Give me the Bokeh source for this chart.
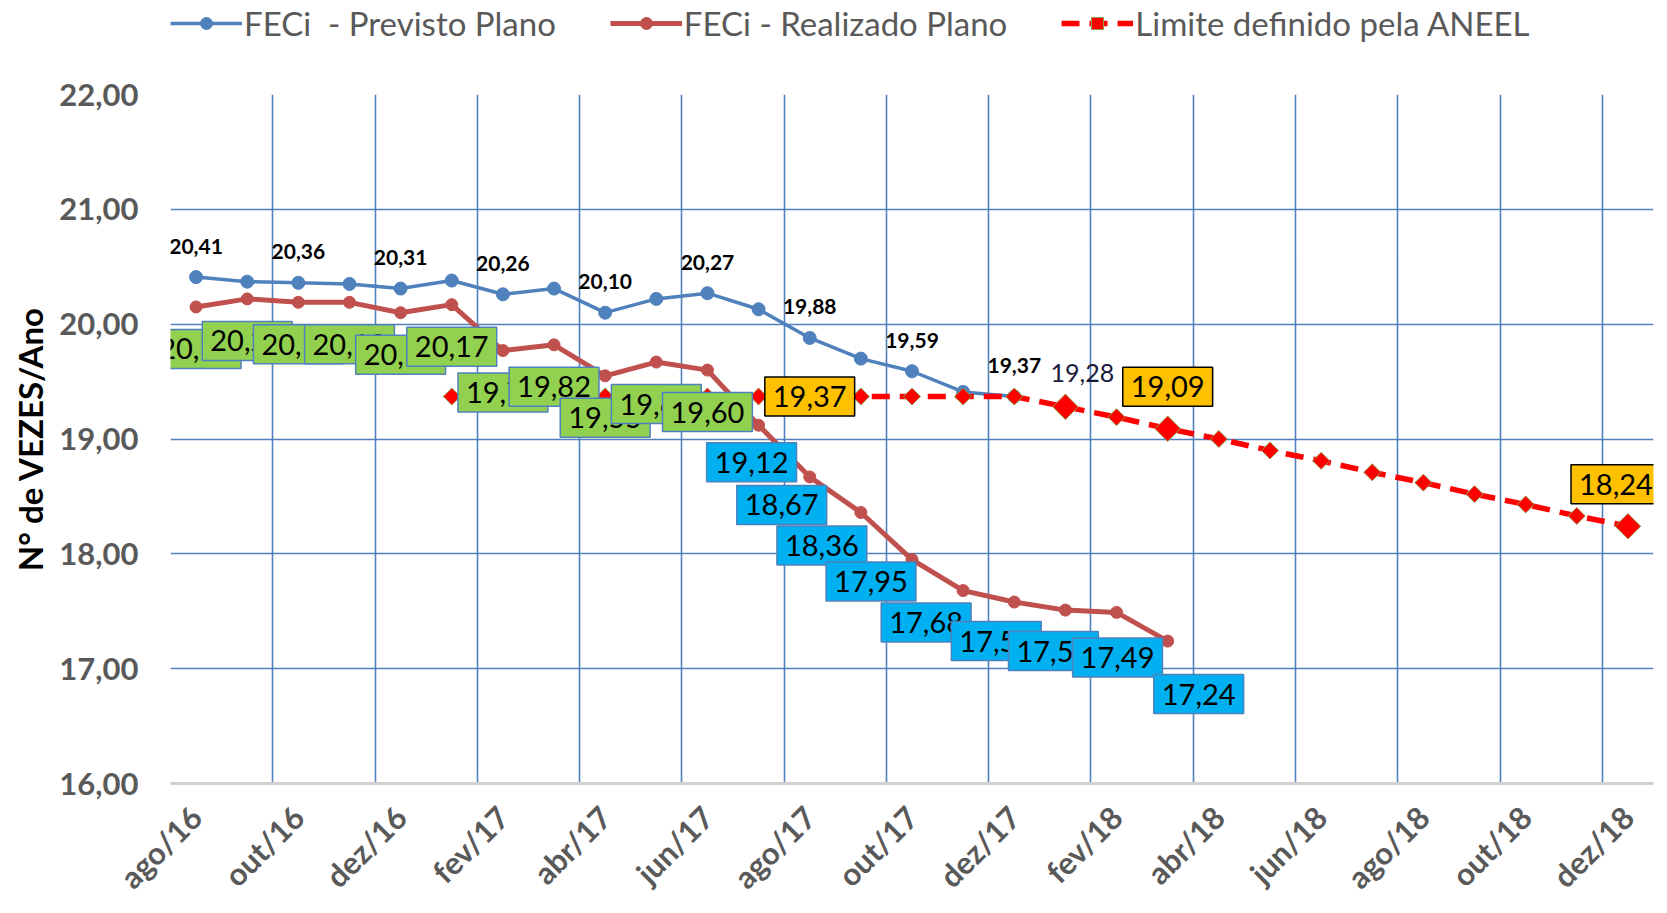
import math
from bokeh.plotting import figure
from bokeh.layouts import column
from bokeh.models import FixedTicker, Legend, LegendItem, Range1d
from bokeh.core.properties import value
from bokeh.embed import file_html
from bokeh.resources import INLINE

# ---------------- data ----------------
months = ["ago/16", "set/16", "out/16", "nov/16", "dez/16", "jan/17", "fev/17", "mar/17",
          "abr/17", "mai/17", "jun/17", "jul/17", "ago/17", "set/17", "out/17", "nov/17",
          "dez/17", "jan/18", "fev/18", "mar/18", "abr/18", "mai/18", "jun/18", "jul/18",
          "ago/18", "set/18", "out/18", "nov/18", "dez/18"]

previsto = [20.41, 20.37, 20.36, 20.35, 20.31, 20.38, 20.26, 20.31, 20.10, 20.22,
            20.27, 20.13, 19.88, 19.70, 19.59, 19.41, 19.37]

realizado = [20.15, 20.22, 20.19, 20.19, 20.10, 20.17, 19.77, 19.82, 19.55, 19.67,
             19.60, 19.12, 18.67, 18.36, 17.95, 17.68, 17.58, 17.51, 17.49, 17.24]

limite_first_month = "jan/17"
limite = [19.37, 19.37, 19.37, 19.37, 19.37, 19.37, 19.37, 19.37, 19.37, 19.37,
          19.37, 19.37, 19.28, 19.19, 19.09, 19.00, 18.90, 18.81, 18.71, 18.62,
          18.52, 18.43, 18.33, 18.24]

y_ticks = [16, 17, 18, 19, 20, 21, 22]

series_names = ["FECi  - Previsto Plano", "FECi - Realizado Plano", "Limite definido pela ANEEL"]

# ---------------- styles / layout ----------------
FONT = "Lato"
GRID = "#4F81BD"
BLUE = "#4F81BD"
RED = "#C0504D"
LIM = "#FF0000"
GREEN_BOX = "#92D050"
CYAN_BOX = "#00B0F0"
ORANGE_BOX = "#FFC000"
DIAMOND_EDGE = "#949B4A"

W = 1661
LEFT, RIGHT = 170, 8
TOP_H = 74
MAIN_TOP = 20

green_box_count = 11                       # first 11 realizado labels are green
cyan_dx = [-7, -28, -39, -41, -37, -18, -12, 1, 31]
cyan_dy = [37, 28, 33, 22, 32, 39, 41, 45, 53]
big_limit_months = ["jan/18", "mar/18", "dez/18"]
boxed_limit_offsets = {"ago/17": (0, 0), "mar/18": (0, -42), "dez/18": (-12, -42)}
plain_limit_months = ["jan/18"]
BOX_PAD = (8, 9)


def fmt(v):
    return f"{v:.2f}".replace(".", ",")


n = len(months)
xc = [i + 0.5 for i in range(n)]
lim0 = months.index(limite_first_month)
x_prev = xc[:len(previsto)]
x_real = xc[:len(realizado)]
x_lim = xc[lim0:lim0 + len(limite)]
lim_months = months[lim0:lim0 + len(limite)]

# ---------------- main chart ----------------
p = figure(frame_width=W - LEFT - RIGHT, frame_height=689, x_range=Range1d(0, n),
           y_range=Range1d(y_ticks[0], y_ticks[-1]),
           output_backend="svg", toolbar_location=None,
           min_border_left=LEFT, min_border_right=RIGHT, min_border_top=MAIN_TOP,
           min_border_bottom=0)
p.outline_line_color = None

p.xgrid.ticker = FixedTicker(ticks=list(range(0, n, 2)) + [n])
p.ygrid.ticker = FixedTicker(ticks=y_ticks[1:])
for g in (p.xgrid, p.ygrid):
    g.grid_line_color = GRID
    g.grid_line_width = 1.6

p.xaxis.ticker = FixedTicker(ticks=[xc[i] for i in range(0, n, 2)])
p.xaxis.major_label_overrides = {xc[i]: months[i] for i in range(0, n, 2)}
p.xaxis.major_label_orientation = math.pi / 4
p.xaxis.major_label_standoff = 22
p.xaxis.axis_line_color = "#D0D0D0"
p.xaxis.axis_line_width = 3
p.xaxis.major_tick_line_color = None
p.xaxis.minor_tick_line_color = None
p.xaxis.major_label_text_font = FONT
p.xaxis.major_label_text_font_style = "bold"
p.xaxis.major_label_text_font_size = "31px"
p.xaxis.major_label_text_color = "#595959"

p.yaxis.ticker = FixedTicker(ticks=y_ticks)
p.yaxis.major_label_overrides = {t: f"{t},00" for t in y_ticks}
p.yaxis.axis_line_color = None
p.yaxis.major_tick_line_color = None
p.yaxis.minor_tick_line_color = None
p.yaxis.major_label_standoff = 26
p.yaxis.major_label_text_font = FONT
p.yaxis.major_label_text_font_style = "bold"
p.yaxis.major_label_text_font_size = "31px"
p.yaxis.major_label_text_color = "#595959"
p.yaxis.axis_label = "N° de VEZES/Ano"
p.yaxis.axis_label_text_font = FONT
p.yaxis.axis_label_text_font_style = "bold"
p.yaxis.axis_label_text_font_size = "33px"
p.yaxis.axis_label_text_color = "black"
p.yaxis.axis_label_standoff = 6

p.line(x_prev, previsto, line_color=BLUE, line_width=3.5)
p.scatter(x_prev, previsto, marker="circle", size=13, fill_color=BLUE, line_color=BLUE)
p.line(x_real, realizado, line_color=RED, line_width=5)
p.scatter(x_real, realizado, marker="circle", size=12, fill_color=RED, line_color=RED)
p.line(x_lim, limite, line_color=LIM, line_width=5.5, line_dash="18 10")
lim_sizes = [18 if m in big_limit_months else 12 for m in lim_months]
p.scatter(x_lim, limite, marker="square", angle=math.pi / 4, size=lim_sizes,
          fill_color=LIM, line_color=DIAMOND_EDGE, line_width=1)

# previsto labels (every other month)
idx = list(range(0, len(previsto), 2))
p.text([x_prev[i] for i in idx], [previsto[i] for i in idx], text=[fmt(previsto[i]) for i in idx],
       y_offset=-31, text_align="center", text_baseline="middle",
       text_font=value(FONT), text_font_style="bold", text_font_size="21px", text_color="black")

# realizado labels
g_idx = list(range(green_box_count))
p.text([x_real[i] for i in g_idx], [realizado[i] for i in g_idx], text=[fmt(realizado[i]) for i in g_idx],
       y_offset=42, text_align="center", text_baseline="middle",
       text_font=value(FONT), text_font_size="29px", text_color="black",
       background_fill_color=GREEN_BOX, border_line_color=BLUE, border_line_width=1.5,
       padding=BOX_PAD)
c_idx = list(range(green_box_count, len(realizado)))
p.text([x_real[i] for i in c_idx], [realizado[i] for i in c_idx], text=[fmt(realizado[i]) for i in c_idx],
       x_offset=cyan_dx, y_offset=cyan_dy, text_align="center", text_baseline="middle",
       text_font=value(FONT), text_font_size="29px", text_color="black",
       background_fill_color=CYAN_BOX, border_line_color=BLUE, border_line_width=1.5,
       padding=BOX_PAD)

# limite labels
o_idx = [lim_months.index(m) for m in boxed_limit_offsets]
p.text([x_lim[i] for i in o_idx], [limite[i] for i in o_idx], text=[fmt(limite[i]) for i in o_idx],
       x_offset=[boxed_limit_offsets[lim_months[i]][0] for i in o_idx],
       y_offset=[boxed_limit_offsets[lim_months[i]][1] for i in o_idx],
       text_align="center", text_baseline="middle",
       text_font=value(FONT), text_font_size="29px", text_color="black",
       background_fill_color=ORANGE_BOX, border_line_color="black", border_line_width=1.5,
       padding=BOX_PAD)
q_idx = [lim_months.index(m) for m in plain_limit_months]
p.text([x_lim[i] for i in q_idx], [limite[i] for i in q_idx], text=[fmt(limite[i]) for i in q_idx],
       x_offset=17, y_offset=-34, text_align="center", text_baseline="middle",
       text_font=value(FONT), text_font_size="25px", text_color="#1A1A3A")

# ---------------- legend strip ----------------
pt = figure(width=W, height=TOP_H, x_range=Range1d(0, 1), y_range=Range1d(0, 1),
            output_backend="svg", toolbar_location=None, x_axis_type=None, y_axis_type=None,
            min_border_left=LEFT, min_border_right=RIGHT, min_border_top=0, min_border_bottom=0)
pt.outline_line_color = None
pt.grid.visible = False
hx, hy = [-10], [-10]   # legend-only renderers, outside the visible strip
l1 = pt.line(hx, hy, line_color=BLUE, line_width=3.5)
m1 = pt.scatter(hx, hy, marker="circle", size=13, fill_color=BLUE, line_color=BLUE)
l2 = pt.line(hx, hy, line_color=RED, line_width=5)
m2 = pt.scatter(hx, hy, marker="circle", size=12, fill_color=RED, line_color=RED)
l3 = pt.line(hx, hy, line_color=LIM, line_width=5.5, line_dash="18 10")
m3 = pt.scatter(hx, hy, marker="square", angle=math.pi / 4, size=12, fill_color=LIM,
                line_color=DIAMOND_EDGE, line_width=1)
legend = Legend(items=[LegendItem(label=series_names[0], renderers=[l1, m1]),
                       LegendItem(label=series_names[1], renderers=[l2, m2]),
                       LegendItem(label=series_names[2], renderers=[l3, m3])],
                orientation="horizontal", location=(0, 31), glyph_width=72, glyph_height=30,
                label_standoff=2, spacing=54, padding=0, margin=0,
                border_line_color=None, background_fill_alpha=0,
                label_text_font=FONT, label_text_font_size="33px", label_text_color="#595959")
pt.add_layout(legend)

layout = column(pt, p, spacing=0)
open("out.html", "w").write(file_html(layout, INLINE))
